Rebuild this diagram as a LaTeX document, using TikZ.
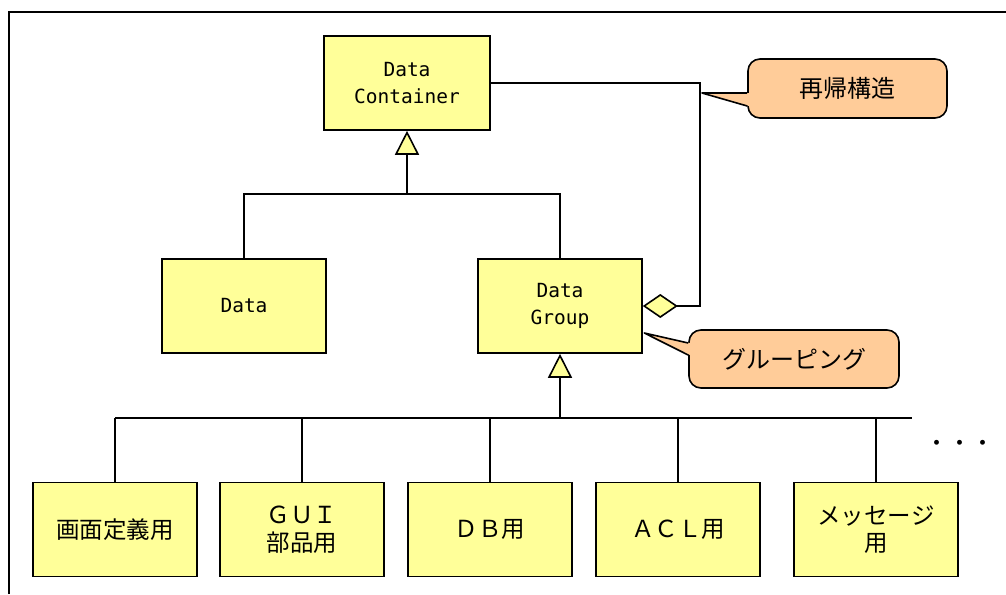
\documentclass[tikz,border=0pt]{standalone}
\usepackage{fontspec}
\newfontfamily\jp{Noto Sans CJK JP}
\newfontfamily\mono{DejaVu Sans Mono}
\usetikzlibrary{arrows.meta,calc}
\definecolor{boxyellow}{HTML}{FFFF99}
\definecolor{notepeach}{HTML}{FFCC99}

\begin{document}
\begin{tikzpicture}[x=1pt,y=-1pt,
  line width=1.6pt,
  cls/.style={draw, fill=boxyellow, minimum width=164pt, minimum height=94pt,
    inner sep=0pt, align=center, font=\jp\fontsize{23.5}{27.5}\selectfont},
  latin/.style={font=\mono\fontsize{19.5}{27.5}\selectfont},
  note/.style={draw, fill=notepeach, rounded corners=12pt, inner sep=0pt,
    font=\jp\fontsize{24}{28}\selectfont},
  inherit/.style={-{Triangle[length=24pt,width=24pt,fill=boxyellow]}},
  whole/.style={{Diamond[length=35pt,width=24pt,fill=boxyellow]}-},
  pointer/.style={line join=round},
]
\useasboundingbox (0,0) rectangle (1006,594);

% outer frame
\draw (9,594) -- (9,12) -- (1006,12);

% classes
\node[cls,latin,minimum width=166pt] (cont) at (407,83) {Data\\Container};
\node[cls,latin] (data) at (244,306) {Data};
\node[cls,latin] (group) at (560,306) {Data\\Group};

\node[cls] (k1) at (115,529.5) {画面定義用};
\node[cls] (k2) at (302,529.5) {ＧＵＩ\\部品用};
\node[cls] (k3) at (490,529.5) {ＤＢ用};
\node[cls] (k4) at (678,529.5) {ＡＣＬ用};
\node[cls] (k5) at (876,529.5) {メッセージ\\用};

\node[font=\jp\fontsize{23}{27}\selectfont] (more) at (960,446) {・・・};

% generalization of Data / Data Group
\coordinate (split) at (407,194);
\draw (data.north) |- (split) -| (group.north);
\draw[inherit] (split) -- (cont.south);

% recursive aggregation
\coordinate (bend) at (700,83);
\draw[whole] (group.east) -| (bend) -- (cont.east);

% specializations of Data Group
\coordinate (busL) at (115,418);
\coordinate (busR) at (912,418);
\draw (busL) -- (busR);
\draw[inherit] (group.south |- busL) -- (group.south);
\foreach \k in {k1,k2,k3,k4,k5}
  \draw (\k.north) -- (\k.north |- busL);

% callout: recursion
\node[note, minimum width=199pt, minimum height=59pt] (recur) at (847.5,88.5) {再帰構造};
\coordinate (recurtip) at (702,93);
\fill[notepeach] (recurtip) -- ($(recur.west)+(1.8,4.5)$) -- ($(recur.west)+(1.8,17.5)$) -- cycle;
\draw[pointer] ($(recur.west)+(0,4.5)$) -- (recurtip) -- ($(recur.west)+(0,17.5)$);

% callout: grouping
\node[note, minimum width=210pt, minimum height=58pt] (grouping) at (794,359) {グルーピング};
\coordinate (grouptip) at ($(group.east)+(1.5,27)$);
\fill[notepeach] (grouptip) -- ($(grouping.west)+(1.8,-16)$) -- ($(grouping.west)+(1.8,-4)$) -- cycle;
\draw[pointer] ($(grouping.west)+(0,-16)$) -- (grouptip) -- ($(grouping.west)+(0,-4)$);
\end{tikzpicture}
\end{document}
